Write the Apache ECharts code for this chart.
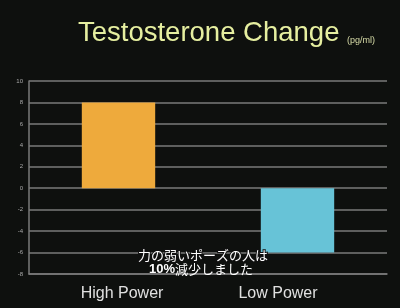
<!DOCTYPE html>
<html>
<head>
<meta charset="utf-8">
<script src="https://cdn.jsdelivr.net/npm/echarts@6/dist/echarts.min.js"></script>
<style>
  html, body { margin: 0; padding: 0; background: #0e100e; }
  #chart { width: 400px; height: 308px; }
</style>
</head>
<body>
<div id="chart"></div>
<script>
// chart data
const categories = ['High Power', 'Low Power']
const values = [8, -6]
const barColors = ['#eeaa3c', '#67c3d7']

const chart = echarts.init(document.getElementById('chart'))

const capStyle = { fill: '#fff', textStrokeWidth: 2, textStroke: '#111' }

chart.setOption({
  backgroundColor: '#0e100e',
  animation: false,
  title: {
    text: 'Testosterone Change',
    left: 73,
    top: 14,
    textStyle: {
      color: '#e6efa0',
      fontFamily: 'Liberation Sans',
      fontWeight: 'normal',
      fontSize: 27.5
    }
  },
  graphic: [
    {
      type: 'text',
      left: 347,
      top: 36,
      style: { text: '(pg/ml)', fill: '#d8dca8', font: '9px "Liberation Sans"' }
    },
    {
      type: 'text',
      left: 137,
      top: 248,
      z: 100,
      style: {
        text: '力の弱いポーズの人は',
        fill: '#ffffff',
        font: '13px "Noto Sans CJK JP"',
        stroke: '#111',
        lineWidth: 2
      }
    },
    {
      type: 'text',
      left: 149,
      top: 263,
      z: 100,
      style: {
        rich: {
          b: Object.assign({ fontWeight: 'bold', fontSize: 13, fontFamily: 'Liberation Sans' }, capStyle),
          n: Object.assign({ fontSize: 13, fontFamily: 'Noto Sans CJK JP' }, capStyle)
        },
        text: '{b|10%}{n|減少しました}'
      }
    }
  ],
  grid: {
    left: 29,
    right: 13,
    top: 81,
    bottom: 34
  },
  xAxis: {
    type: 'category',
    data: categories,
    axisLine: { show: true, onZero: false, lineStyle: { color: '#7a7a7a', width: 1.5 } },
    axisTick: { show: false },
    axisLabel: {
      color: '#e0e0e0',
      fontSize: 16,
      fontFamily: 'Liberation Sans',
      margin: 12,
      formatter: function (v, i) {
        return i === 0 ? '{a|' + v + '}' : '{b|' + v + '}'
      },
      rich: {
        a: { color: '#e0e0e0', fontSize: 16, fontFamily: 'Liberation Sans', padding: [0, 0, 0, 7] },
        b: { color: '#e0e0e0', fontSize: 16, fontFamily: 'Liberation Sans', padding: [0, 39, 0, 0] }
      }
    }
  },
  yAxis: {
    type: 'value',
    min: -8,
    max: 10,
    interval: 2,
    axisLine: { show: true, lineStyle: { color: '#7a7a7a', width: 1.5 } },
    axisTick: { show: false },
    axisLabel: {
      color: '#aaa',
      fontSize: 6,
      fontFamily: 'Liberation Sans',
      margin: 6
    },
    splitLine: { show: true, lineStyle: { color: '#7a7a7a', width: 1.5 } }
  },
  series: [{
    type: 'bar',
    barWidth: '41%',
    data: values.map((v, i) => ({ value: v, itemStyle: { color: barColors[i] } }))
  }]
})
</script>
</body>
</html>
